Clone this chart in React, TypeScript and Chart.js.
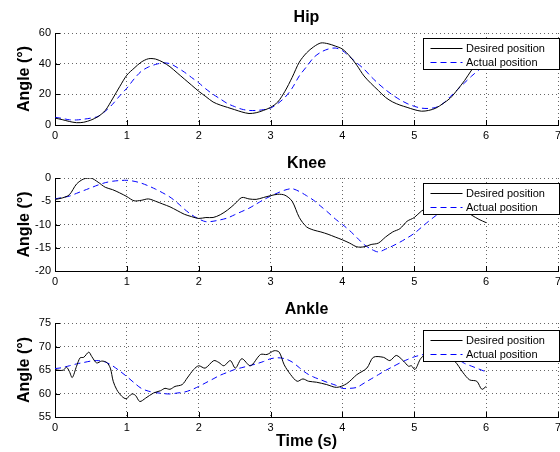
import React, { useEffect, useRef } from "react";
import { Chart, registerables } from "chart.js";

Chart.register(...registerables);

// ---------------- data ----------------
const timeS = [
  0.0, 0.1, 0.2, 0.3, 0.4, 0.5, 0.6, 0.7, 0.8, 0.9,
  1.0, 1.1, 1.2, 1.3, 1.4, 1.5, 1.6, 1.7, 1.8, 1.9,
  2.0, 2.1, 2.2, 2.3, 2.4, 2.5, 2.6, 2.7, 2.8, 2.9,
  3.0, 3.1, 3.2, 3.3, 3.4, 3.5, 3.6, 3.7, 3.8, 3.9,
  4.0, 4.1, 4.2, 4.3, 4.4, 4.5, 4.6, 4.7, 4.8, 4.9,
  5.0, 5.1, 5.2, 5.3, 5.4, 5.5, 5.6, 5.7, 5.8, 5.9,
  6.0,
];

const hipDesired = [
  4.5, 3.5, 2.3, 1.5, 1.8, 3.2, 5.5, 9.5, 17, 25,
  32.5, 37, 41, 43.2, 43, 41, 38, 34, 30, 26,
  22, 18.5, 15, 13, 11.5, 10, 8.5, 7.5, 8, 9.5,
  11.5, 15, 22, 31, 41, 47, 51, 53.5, 53, 51.5,
  49.5, 45, 39, 32, 27, 22.5, 18, 15, 13, 11.5,
  10, 9, 9.5, 11, 14, 17.5, 23, 29, 36, 42,
  46,
];
const hipActual = [
  5, 4.3, 3.4, 3.3, 3.8, 4.5, 5.6, 9, 13.5, 19,
  24, 30, 35, 37.8, 39.5, 40.5, 40, 37.5, 34.5, 31,
  27.5, 23.5, 20, 17, 14, 12, 10.3, 9.5, 9.5, 10,
  11, 14, 18, 24, 32, 38, 44, 47.5, 49.5, 50.2,
  48.5, 44.5, 40.5, 36.5, 31.5, 27, 23, 19.5, 16.5, 14,
  12.2, 11, 10.8, 11.5, 14, 18.5, 23, 27.5, 32, 36,
  40,
];

const kneeDesired = [
  -4.6, -4.3, -3.6, -1.3, -0.2, 0, -0.9, -2.0, -2.5, -3.2,
  -4.0, -4.9, -4.8, -4.5, -5.0, -5.6, -6.2, -7.0, -7.8, -8.3,
  -8.7, -8.5, -8.5, -7.9, -6.9, -5.6, -4.2, -4.5, -4.6, -4.2,
  -3.8, -3.5, -3.7, -5.0, -8.5, -10.5, -11.2, -11.6, -12.1, -12.7,
  -13.3, -14.0, -14.8, -14.8, -14.3, -14.0, -12.7, -11.6, -10.9, -9.3,
  -8.5, -7.1, -6.3, -5.8, -5.6, -5.7, -6.2, -7.0, -8.0, -8.9,
  -9.6,
];
const kneeActual = [
  -4.5, -4.2, -3.9, -3.3, -2.7, -2.1, -1.5, -1.0, -0.7, -0.55,
  -0.5, -0.7, -1.1, -1.7, -2.4, -3.2, -4.1, -5.3, -6.7, -7.9,
  -8.8, -9.4, -9.3, -9.0, -8.6, -7.9, -7.2, -6.5, -5.6, -4.7,
  -3.9, -3.2, -2.6, -2.3, -2.9, -3.8, -4.8, -6.1, -7.4, -8.8,
  -10.0, -11.3, -12.8, -14.3, -15.3, -15.9, -15.3, -14.6, -13.8, -12.9,
  -11.9, -10.6, -9.3, -8.1, -7.0, -6.0, -5.2, -4.6, -4.2, -4.0,
  -4.0,
];

const ankleDesiredTime = [
  0, 0.07, 0.12, 0.16, 0.2, 0.24, 0.3, 0.35, 0.4, 0.47,
  0.51, 0.58, 0.65, 0.72, 0.77, 0.81, 0.86, 0.93, 0.99, 1.07,
  1.12, 1.18, 1.26, 1.37, 1.47, 1.53, 1.6, 1.67, 1.77, 1.84,
  1.93, 2.0, 2.09, 2.21, 2.28, 2.35, 2.44, 2.51, 2.6, 2.72,
  2.86, 2.95, 3.05, 3.12, 3.19, 3.28, 3.37, 3.45, 3.53, 3.64,
  3.78, 3.92, 4.06, 4.2, 4.34, 4.43, 4.57, 4.66, 4.75, 4.85,
  4.92, 4.96, 5.01, 5.08, 5.12, 5.25, 5.4, 5.56, 5.68, 5.77,
  5.87, 5.94, 6.0,
];
const ankleDesired = [
  65.1, 64.9, 65.0, 65.6, 64.7, 63.4, 65.8, 67.6, 67.7, 68.8,
  67.9, 66.5, 66.9, 66.6, 65.4, 62.6, 60.8, 59.4, 58.9, 59.9,
  59.6, 58.3, 59.0, 60.1, 60.6, 61.1, 60.9, 61.5, 61.9, 63.3,
  65.1, 65.9, 65.4, 67.0, 66.6, 65.9, 67.0, 65.4, 67.4, 65.9,
  68.3, 68.3, 69.1, 68.8, 66.1, 64.0, 62.6, 63.1, 62.6, 62.4,
  61.9, 61.3, 62.1, 64.0, 65.4, 67.7, 67.7, 67.0, 68.1, 66.9,
  65.8, 65.9, 65.1, 67.2, 67.9, 68.5, 68.3, 66.9, 64.4, 62.9,
  62.6, 60.9, 61.5,
];
const ankleActual = [
  65.3, 65.5, 65.9, 66.3, 66.6, 66.9, 67.0, 66.7, 65.9, 64.8,
  63.6, 62.3, 61.1, 60.5, 60.2, 60.0, 59.9, 60.1, 60.3, 60.8,
  61.5, 62.3, 63.1, 63.9, 64.5, 65.1, 65.5, 65.9, 66.3, 66.8,
  67.4, 67.6, 67.4, 66.7, 65.5, 64.3, 63.5, 62.9, 62.3, 61.8,
  61.1, 61.1, 61.3, 62.2, 63.1, 64.0, 64.9, 65.7, 66.5, 67.2,
  67.8, 68.2, 68.5, 68.6, 68.4, 67.9, 67.3, 66.4, 65.8, 65.2,
  64.6,
];

const legendLabels = ["Desired position", "Actual position"];
const panelTitles = ["Hip", "Knee", "Ankle"];
const yAxisLabel = "Angle (°)";
const xAxisLabel = "Time (s)";
const xRange = [0, 7];
const hipRange = [0, 60];
const kneeRange = [-20, 0];
const ankleRange = [55, 75];

// ---------------- styling ----------------
const FONT = "'Liberation Sans', Arial, Helvetica, sans-serif";
Chart.defaults.font.family = FONT;
Chart.defaults.color = "#000";

const toPts = (t: number[], v: number[]) => t.map((x, i) => ({ x, y: v[i] }));

const decorPlugin = {
  id: "decor",
  afterDraw(chart: any, _args: any, opts: any) {
    const { ctx, chartArea: a } = chart;
    const xs = chart.scales.x;
    const ys = chart.scales.y;
    ctx.save();
    // inward tick marks
    ctx.strokeStyle = "#000";
    ctx.lineWidth = 1;
    ctx.setLineDash([]);
    xs.ticks.forEach((t: any) => {
      const px = Math.round(xs.getPixelForValue(t.value)) + 0.5;
      ctx.beginPath();
      ctx.moveTo(px, a.bottom);
      ctx.lineTo(px, a.bottom - 5);
      ctx.stroke();
    });
    ys.ticks.forEach((t: any) => {
      const py = Math.round(ys.getPixelForValue(t.value)) + 0.5;
      ctx.beginPath();
      ctx.moveTo(a.left, py);
      ctx.lineTo(a.left + 5, py);
      ctx.stroke();
    });
    // panel title
    ctx.fillStyle = "#000";
    ctx.font = `bold 16px ${FONT}`;
    ctx.textAlign = "center";
    ctx.textBaseline = "alphabetic";
    ctx.fillText(opts.title, (a.left + a.right) / 2, a.top - opts.titleGap);
    // legend box
    const bw = 136;
    const bh = 31;
    const bx = Math.round(a.right - 135) + 0.5;
    const by = Math.round(a.top + opts.legendGap) + 0.5;
    ctx.fillStyle = "#fff";
    ctx.fillRect(bx, by, bw, bh);
    ctx.strokeStyle = "#000";
    ctx.strokeRect(bx, by, bw, bh);
    ctx.font = `11px ${FONT}`;
    ctx.textAlign = "left";
    ctx.textBaseline = "middle";
    chart.data.datasets.forEach((ds: any, i: number) => {
      const cy = by + 9.5 + i * 14.4;
      ctx.strokeStyle = ds.borderColor;
      ctx.lineWidth = 1;
      ctx.setLineDash(ds.borderDash || []);
      ctx.beginPath();
      ctx.moveTo(bx + 7, Math.round(cy) + 0.5);
      ctx.lineTo(bx + 39, Math.round(cy) + 0.5);
      ctx.stroke();
      ctx.setLineDash([]);
      ctx.fillStyle = "#000";
      ctx.fillText(ds.label, bx + 42.5, cy + 0.5);
    });
    ctx.restore();
  },
};

type Spec = {
  title: string;
  desired: { x: number; y: number }[];
  actual: { x: number; y: number }[];
  yRange: number[];
  yStep: number;
  padTop: number;
  xHeight: number;
  titleGap: number;
  legendGap: number;
  showXTitle: boolean;
};

function makeConfig(s: Spec): any {
  const gridColor = "rgba(0,0,0,0.6)";
  return {
    type: "line",
    data: {
      datasets: [
        {
          label: legendLabels[0],
          data: s.desired,
          borderColor: "#000000",
          borderWidth: 1,
          pointRadius: 0,
          tension: 0.3,
          fill: false,
        },
        {
          label: legendLabels[1],
          data: s.actual,
          borderColor: "#0000ff",
          borderWidth: 1,
          borderDash: [6, 4],
          pointRadius: 0,
          tension: 0.3,
          fill: false,
        },
      ],
    },
    options: {
      responsive: false,
      animation: false,
      events: [],
      layout: { padding: { top: s.padTop, right: 2, bottom: 0, left: 0 } },
      plugins: {
        legend: { display: false },
        title: { display: false },
        tooltip: { enabled: false },
        decor: { title: s.title, titleGap: s.titleGap, legendGap: s.legendGap },
      },
      scales: {
        x: {
          type: "linear",
          min: xRange[0],
          max: xRange[1],
          ticks: { stepSize: 1, padding: 4, font: { size: 11 }, color: "#000", maxRotation: 0 },
          grid: { color: gridColor, drawTicks: false, lineWidth: 1 },
          border: { display: true, color: "#000", width: 1, dash: [1, 3] },
          title: {
            display: s.showXTitle,
            text: xAxisLabel,
            font: { size: 16, weight: "bold" },
            color: "#000",
            padding: { top: 0, bottom: 1 },
          },
          afterFit: (sc: any) => {
            sc.height = s.xHeight;
            sc.paddingLeft = 0;
            sc.paddingRight = 0;
          },
        },
        y: {
          type: "linear",
          min: s.yRange[0],
          max: s.yRange[1],
          ticks: { stepSize: s.yStep, padding: 4, font: { size: 11 }, color: "#000" },
          grid: { color: gridColor, drawTicks: false, lineWidth: 1 },
          border: { display: true, color: "#000", width: 1, dash: [1, 3] },
          title: {
            display: true,
            text: yAxisLabel,
            font: { size: 16, weight: "bold" },
            color: "#000",
            padding: { top: 15, bottom: 0 },
          },
          afterFit: (sc: any) => {
            sc.width = 55;
            sc.paddingTop = 0;
            sc.paddingBottom = 0;
          },
        },
      },
    },
    plugins: [decorPlugin],
  };
}

const specs: Spec[] = [
  {
    title: panelTitles[0],
    desired: toPts(timeS, hipDesired),
    actual: toPts(timeS, hipActual),
    yRange: hipRange,
    yStep: 20,
    padTop: 33,
    xHeight: 25,
    titleGap: 11,
    legendGap: 5,
    showXTitle: false,
  },
  {
    title: panelTitles[1],
    desired: toPts(timeS, kneeDesired),
    actual: toPts(timeS, kneeActual),
    yRange: kneeRange,
    yStep: 5,
    padTop: 28,
    xHeight: 29,
    titleGap: 10,
    legendGap: 5,
    showXTitle: false,
  },
  {
    title: panelTitles[2],
    desired: toPts(ankleDesiredTime, ankleDesired),
    actual: toPts(timeS, ankleActual),
    yRange: ankleRange,
    yStep: 5,
    padTop: 23,
    xHeight: 35,
    titleGap: 9.5,
    legendGap: 6.5,
    showXTitle: true,
  },
];

const panelBoxes = [
  { top: 0, height: 150 },
  { top: 150, height: 150 },
  { top: 300, height: 152 },
];

function Panel({ spec, top, height }: { spec: Spec; top: number; height: number }) {
  const ref = useRef<HTMLCanvasElement | null>(null);
  useEffect(() => {
    if (!ref.current) return;
    const chart = new Chart(ref.current, makeConfig(spec));
    return () => chart.destroy();
  }, [spec]);
  return (
    <canvas
      ref={ref}
      width={560}
      height={height}
      style={{ position: "absolute", left: 0, top, width: 560, height, display: "block" }}
    />
  );
}

export default function App() {
  return (
    <div
      style={{
        position: "absolute",
        left: 0,
        top: 0,
        width: 560,
        height: 452,
        background: "#fff",
        overflow: "hidden",
      }}
    >
      {specs.map((s, i) => (
        <Panel key={i} spec={s} top={panelBoxes[i].top} height={panelBoxes[i].height} />
      ))}
    </div>
  );
}
